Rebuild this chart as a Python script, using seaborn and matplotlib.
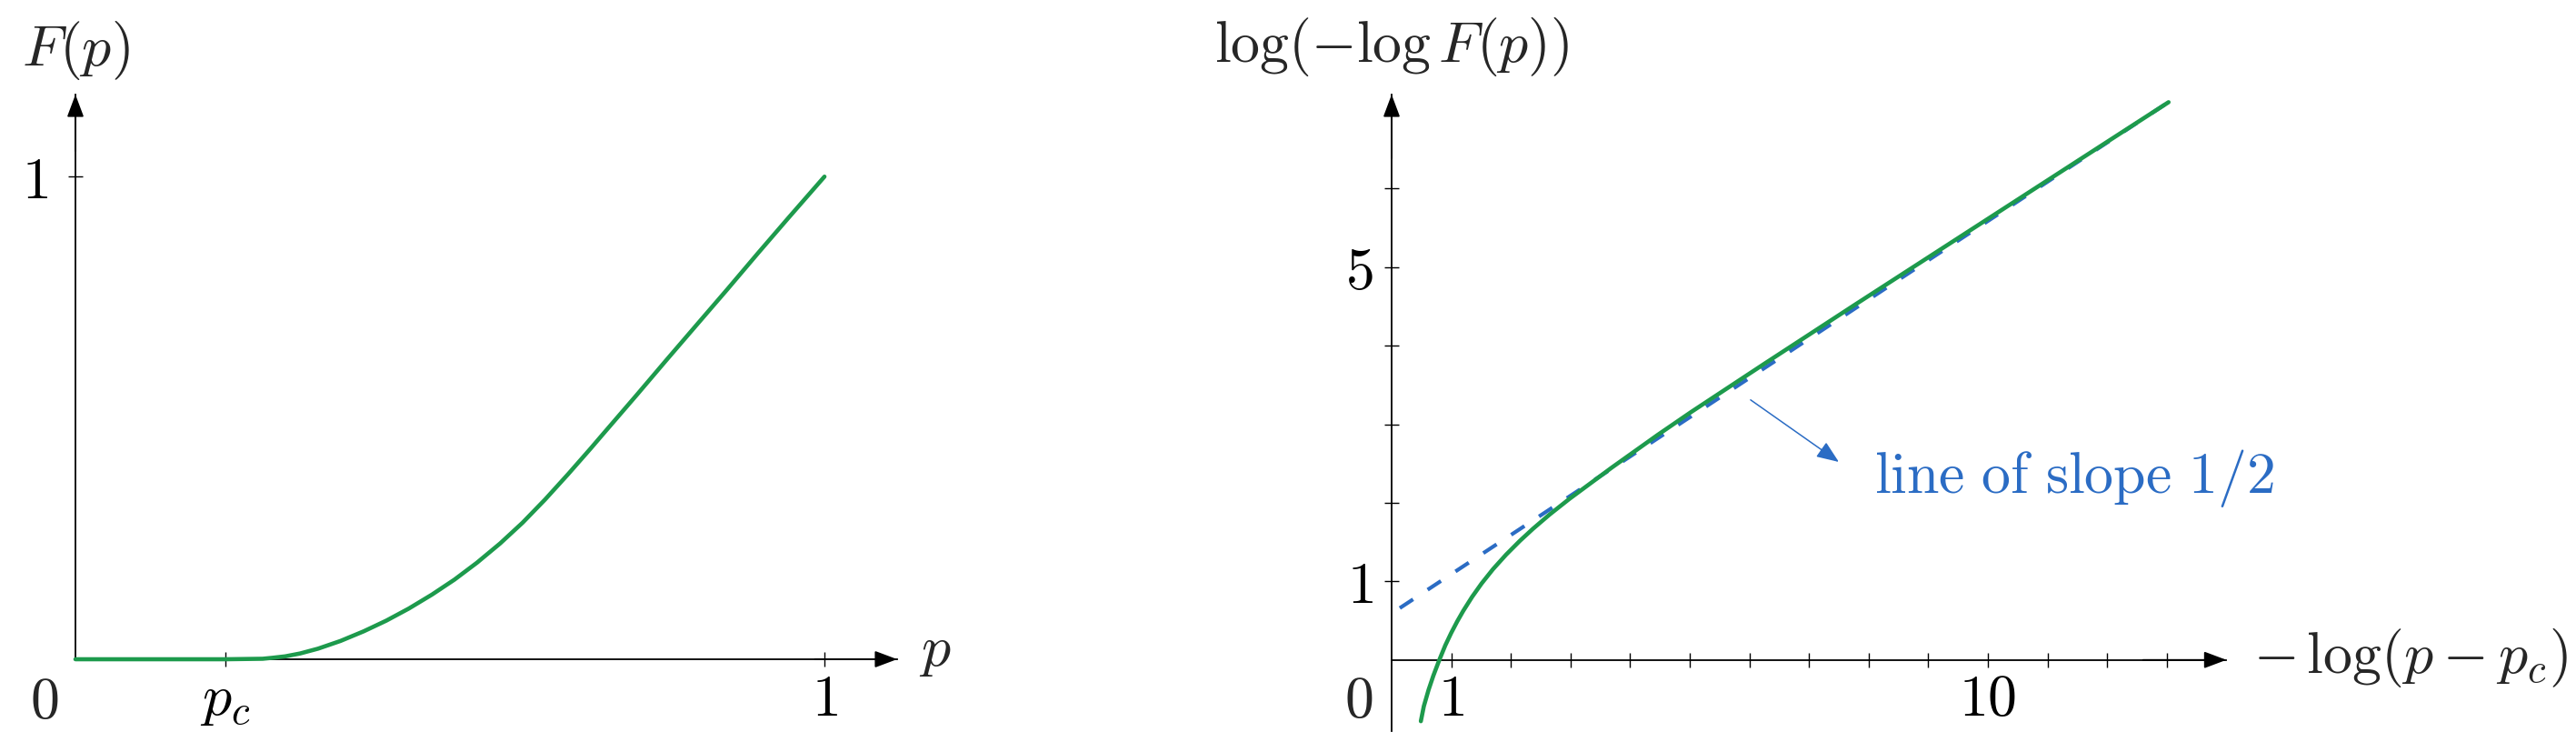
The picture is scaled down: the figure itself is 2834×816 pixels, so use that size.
import matplotlib
matplotlib.use("Agg")
import matplotlib.pyplot as plt
import pandas as pd
import seaborn as sns
from matplotlib.patches import ArrowStyle

sns.set_theme(style="white")
plt.rcParams["mathtext.fontset"] = "cm"
plt.rcParams["font.family"] = ["DejaVu Serif"]

GREEN = "#1d9a4c"
BLUE = "#2b6cc4"
FS = 46

# left panel: F(p) against p
p_vals = [0.0, 0.20, 0.25, 0.263, 0.28, 0.30, 0.324, 0.354, 0.385, 0.415,
          0.445, 0.476, 0.506, 0.536, 0.567, 0.597, 0.627, 0.658, 0.688,
          0.704, 0.749, 0.789, 0.830, 0.870, 0.911, 0.951, 1.0]
F_vals = [0.0, 0.0, 0.001, 0.003, 0.006, 0.012, 0.022, 0.038, 0.058, 0.080,
          0.105, 0.134, 0.165, 0.200, 0.240, 0.283, 0.331, 0.384, 0.437,
          0.466, 0.547, 0.620, 0.694, 0.766, 0.841, 0.913, 1.0]
left_xticks = [0.2, 1.0]
left_xticklabels = [r"$p_c$", r"$1$"]
left_yticks = [1.0]
left_yticklabels = [r"$1$"]

# right panel: log(-log F) against -log(p - p_c)
t_vals = [0.49, 0.54, 0.62, 0.70, 0.80, 0.90, 1.00, 1.10, 1.20, 1.35, 1.51,
          1.70, 1.92, 2.15, 2.37, 2.65, 2.98, 3.69, 4.46, 5.02, 6.23, 7.76,
          9.28, 10.81, 12.33, 13.03]
g_vals = [-0.78, -0.59, -0.38, -0.20, 0.0, 0.185, 0.345, 0.49, 0.623, 0.803,
          0.974, 1.155, 1.34, 1.515, 1.669, 1.851, 2.049, 2.447, 2.863, 3.154,
          3.759, 4.516, 5.261, 6.011, 6.756, 7.099]
slope_x = [0.137, 13.03]
slope_y = [0.66, 7.10]
right_xticks = list(range(1, 14))
right_xticklabels = ["$1$" if v == 1 else "$10$" if v == 10 else "" for v in right_xticks]
right_yticks = list(range(1, 7))
right_yticklabels = ["$1$" if v == 1 else "$5$" if v == 5 else "" for v in right_yticks]

left_df = pd.DataFrame({"p": p_vals, "F": F_vals})
right_df = pd.DataFrame({"t": t_vals, "g": g_vals})
slope_df = pd.DataFrame({"t": slope_x, "g": slope_y})

W, H = 2834, 816
fig = plt.figure(figsize=(W / 100, H / 100), dpi=100)
ax1 = fig.add_axes([83 / W, (H - 725) / H, 904 / W, 621 / H])
ax2 = fig.add_axes([1531 / W, (H - 803.5) / H, 918.4 / W, 699.5 / H])

arrow = ArrowStyle("-|>", head_length=0.4, head_width=0.15)


def draw_axes(ax, xpad, ypad):
    for s in ["top", "right"]:
        ax.spines[s].set_visible(False)
    ax.spines["bottom"].set_position(("data", 0))
    ax.spines["left"].set_position(("data", 0))
    for s in ["bottom", "left"]:
        ax.spines[s].set_linewidth(1.3)
        ax.spines[s].set_color("black")
        ax.spines[s].set_zorder(1)
    kw = dict(arrowstyle=arrow, color="black", lw=1.3, mutation_scale=38,
              shrinkA=0, shrinkB=0)
    ax.annotate("", xy=(1, 0), xycoords=ax.get_yaxis_transform(),
                xytext=(0.9, 0), textcoords=ax.get_yaxis_transform(),
                arrowprops=kw, zorder=1)
    ax.annotate("", xy=(0, 1), xycoords=ax.get_xaxis_transform(),
                xytext=(0, 0.9), textcoords=ax.get_xaxis_transform(),
                arrowprops=kw, zorder=1)
    ax.tick_params(axis="both", direction="inout", length=11.5, width=1.0,
                   color="black", labelsize=FS, labelcolor="black")
    ax.tick_params(axis="x", pad=xpad, bottom=True)
    ax.tick_params(axis="y", pad=ypad, left=True)
    ax.grid(False)
    ax.set_xlabel("")
    ax.set_ylabel("")


# left panel
sns.lineplot(data=left_df, x="p", y="F", ax=ax1, color=GREEN, linewidth=3.3,
             sort=False, estimator=None, clip_on=False, zorder=3)
ax1.set_xlim(0, 1.097)
ax1.set_ylim(0, 1.17)
ax1.set_xticks(left_xticks, left_xticklabels)
ax1.set_yticks(left_yticks, left_yticklabels)
draw_axes(ax1, 4, 16)
ax1.annotate("$0$", xy=(0, 0), xytext=(-24.5, -34), textcoords="offset points",
             ha="center", va="center", fontsize=FS)
ax1.annotate("$F(p)$", xy=(0, 1), xycoords=ax1.get_xaxis_transform(),
             xytext=(0, 35), textcoords="offset points", ha="center",
             va="center", fontsize=FS)
ax1.annotate("$p$", xy=(1, 0), xycoords=ax1.get_yaxis_transform(),
             xytext=(17, -5), textcoords="offset points", ha="left",
             va="baseline", fontsize=FS)

# right panel
sns.lineplot(data=slope_df, x="t", y="g", ax=ax2, color=BLUE, linewidth=3.0,
             linestyle=(0, (4.2, 4.6)), estimator=None, zorder=3)
sns.lineplot(data=right_df, x="t", y="g", ax=ax2, color=GREEN, linewidth=3.3,
             sort=False, estimator=None, zorder=4)
ax2.set_xlim(0, 14)
ax2.set_ylim(-0.9, 7.196)
ax2.set_xticks(right_xticks, right_xticklabels)
ax2.set_yticks(right_yticks, right_yticklabels)
draw_axes(ax2, 4, 9)
ax2.annotate("$0$", xy=(0, 0), xytext=(-26, -32.6), textcoords="offset points",
             ha="center", va="center", fontsize=FS)
ax2.annotate(r"$\log(-\log F(p))$", xy=(0, 1), xycoords=ax2.get_xaxis_transform(),
             xytext=(0, 38), textcoords="offset points", ha="center",
             va="center", fontsize=FS)
ax2.annotate(r"$-\,\log(p-p_c)$", xy=(1, 0), xycoords=ax2.get_yaxis_transform(),
             xytext=(21, -10), textcoords="offset points", ha="left",
             va="baseline", fontsize=FS)
ax2.annotate("", xy=(7.50, 2.52), xytext=(6.02, 3.31),
             arrowprops=dict(arrowstyle=ArrowStyle("-|>", head_length=0.5, head_width=0.2),
                             color=BLUE, lw=1.1, mutation_scale=30,
                             shrinkA=0, shrinkB=0))
ax2.text(8.09, 2.13, r"$\mathrm{line\ of\ slope\ 1/2}$", color=BLUE,
         fontsize=FS, ha="left", va="baseline")

fig.savefig("out.png", dpi=100)
